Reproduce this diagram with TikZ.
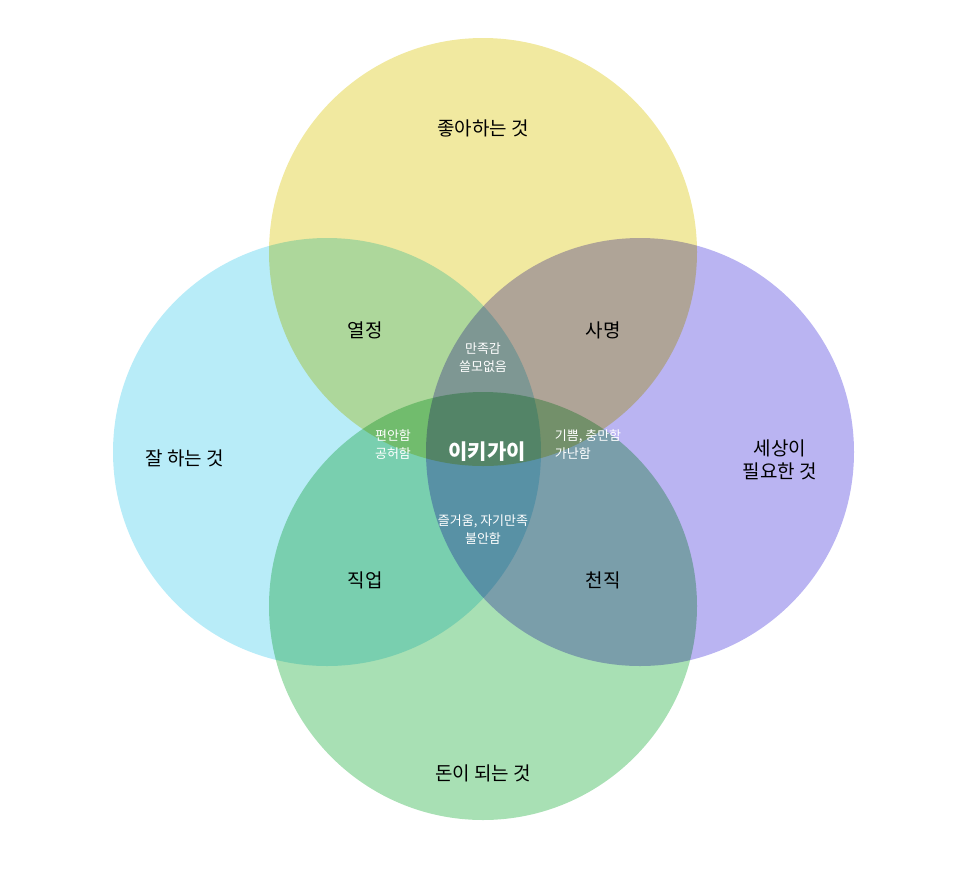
\documentclass[tikz,border=0pt]{standalone}
\usepackage{fontspec}
\setmainfont{Noto Sans CJK KR}
\definecolor{loveC}{RGB}{241,233,160}
\definecolor{goodC}{RGB}{184,236,248}
\definecolor{needC}{RGB}{186,180,242}
\definecolor{paidC}{RGB}{168,224,180}
\tikzset{
  ring/.style={circle, minimum size=428pt, inner sep=0pt},
  big/.style={font=\fontsize{19}{23}\selectfont, align=center},
  mid/.style={font=\fontsize{19}{23}\selectfont},
  small/.style={font=\fontsize{13}{18}\selectfont, text=white, align=center}
}
\begin{document}
\begin{tikzpicture}[x=1pt, y=-1pt]
        \useasboundingbox (0,0) rectangle (966,892);
        \begin{scope}[blend group=multiply]
        \node[ring, fill=loveC] (love) at (483,252) {};
        \node[ring, fill=goodC] (good) at (327,452) {};
        \node[ring, fill=needC] (need) at (640,452) {};
        \node[ring, fill=paidC] (paid) at (483,606) {};
        \end{scope}
        % outer labels
        \node[big] (loveT) at (483,128) {좋아하는 것};
        \node[big] (goodT) at (185,458) {잘 하는 것};
        \node[big] (needT) at (780,460) {세상이\\필요한 것};
        \node[big] (paidT) at (483,773) {돈이 되는 것};
        % overlaps
        \node[mid] (passion) at (365,330) {열정};
        \node[mid] (mission) at (603,330) {사명};
        \node[mid] (profession) at (365,580) {직업};
        \node[mid] (vocation) at (603,580) {천직};
        \node[small] (topIn) at (483,358) {만족감\\쓸모없음};
        \node[small] (leftIn) at (393,445) {편안함\\공허함};
        \node[small, align=left] (rightIn) at (588,445) {기쁨, 충만함\\가난함};
        \node[small] (bottomIn) at (483,530) {즐거움, 자기만족\\불안함};
        \node[font=\fontsize{21}{25}\selectfont\bfseries, text=white] (ikigai) at (487,452) {이키가이};
\end{tikzpicture}
\end{document}
